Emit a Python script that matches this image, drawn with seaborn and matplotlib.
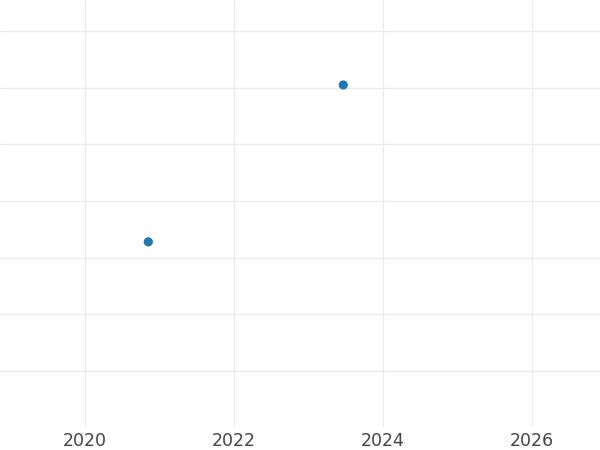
import matplotlib
matplotlib.use('Agg')
import matplotlib.pyplot as plt
import seaborn as sns
import pandas as pd

sns.set_style('white')
plt.rcParams['font.family'] = ['DejaVu Sans']

years = [2020.85, 2023.47]
values = [2.28, 5.05]
xticks = [2020, 2022, 2024, 2026]
yticks = [0, 1, 2, 3, 4, 5, 6]

df = pd.DataFrame({'year': years, 'value': values})

fig = plt.figure(figsize=(6, 4.5), dpi=100)
ax = fig.add_axes([0, 0.051, 1, 0.949])

sns.scatterplot(data=df, x='year', y='value', ax=ax, s=44, color='#1f77b4',
                edgecolor='none', zorder=3)

ax.set_xlim(2018.857, 2026.92)
ax.set_ylim(-0.99, 6.55)
ax.set_xticks(xticks)
ax.set_xticklabels([str(t) for t in xticks], fontsize=12.5, color='#444444')
ax.set_yticks(yticks)
ax.set_yticklabels([])
ax.tick_params(axis='both', length=0, pad=3.5)
ax.grid(True, color='#ebebeb', linewidth=1.0)
ax.set_axisbelow(True)
for s in ax.spines.values():
    s.set_visible(False)
ax.set_xlabel('')
ax.set_ylabel('')

fig.savefig('out.png', dpi=100)
